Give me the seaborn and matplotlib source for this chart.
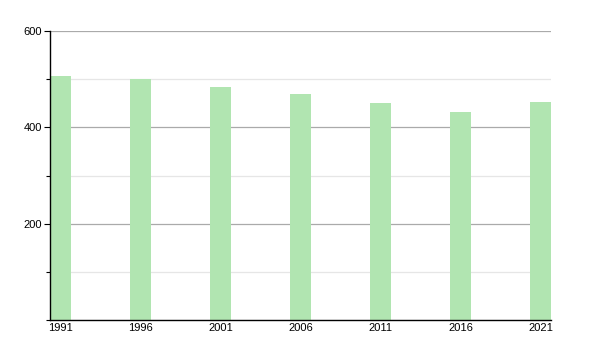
import matplotlib
matplotlib.use("Agg")
import matplotlib.pyplot as plt
import seaborn as sns
import pandas as pd
from matplotlib.ticker import MultipleLocator

years = ["1991", "1996", "2001", "2006", "2011", "2016", "2021"]
population = [506, 500, 484, 469, 450, 432, 452]

sns.set_style("white")
plt.rcParams['font.family'] = ['Liberation Sans', 'DejaVu Sans']

df = pd.DataFrame({"year": years, "pop": population})

fig = plt.figure(figsize=(6, 3.5), dpi=100)
ax = fig.add_axes([50/600, 30/350, 501/600, 289/350])

w = 0.2625
sns.barplot(data=df, x="year", y="pop", color="#b1e5b1", saturation=1,
            width=w, ax=ax, zorder=3, edgecolor="none")

ax.set_xlim(-w/2, len(years) - 1 + w/2)
ax.set_ylim(0, 600)
ax.yaxis.set_major_locator(MultipleLocator(200))
ax.yaxis.set_minor_locator(MultipleLocator(100))
ax.set_yticks([200, 400, 600])
ax.grid(axis="y", which="major", color="#aaaaaa", linewidth=0.9, zorder=0)
ax.grid(axis="y", which="minor", color="#e6e6e6", linewidth=0.9, zorder=0)
ax.set_axisbelow(True)

for s in ["top", "right"]:
    ax.spines[s].set_visible(False)
ax.spines["left"].set_color("black")
ax.spines["bottom"].set_color("black")
ax.spines["left"].set_linewidth(1.0)
ax.spines["bottom"].set_linewidth(1.0)
ax.spines["left"].set_zorder(4)
ax.spines["bottom"].set_zorder(4)

ax.tick_params(axis="y", which="major", direction="out", length=4, width=0.8,
               color="black", labelsize=8, pad=2, left=True, labelcolor="black")
ax.tick_params(axis="y", which="minor", direction="out", length=3, width=0.8,
               color="black", left=True)
ax.tick_params(axis="x", length=0, labelsize=8, pad=2, labelcolor="black")
ax.set_xlabel("")
ax.set_ylabel("")

fig.savefig("out.png", dpi=100)
